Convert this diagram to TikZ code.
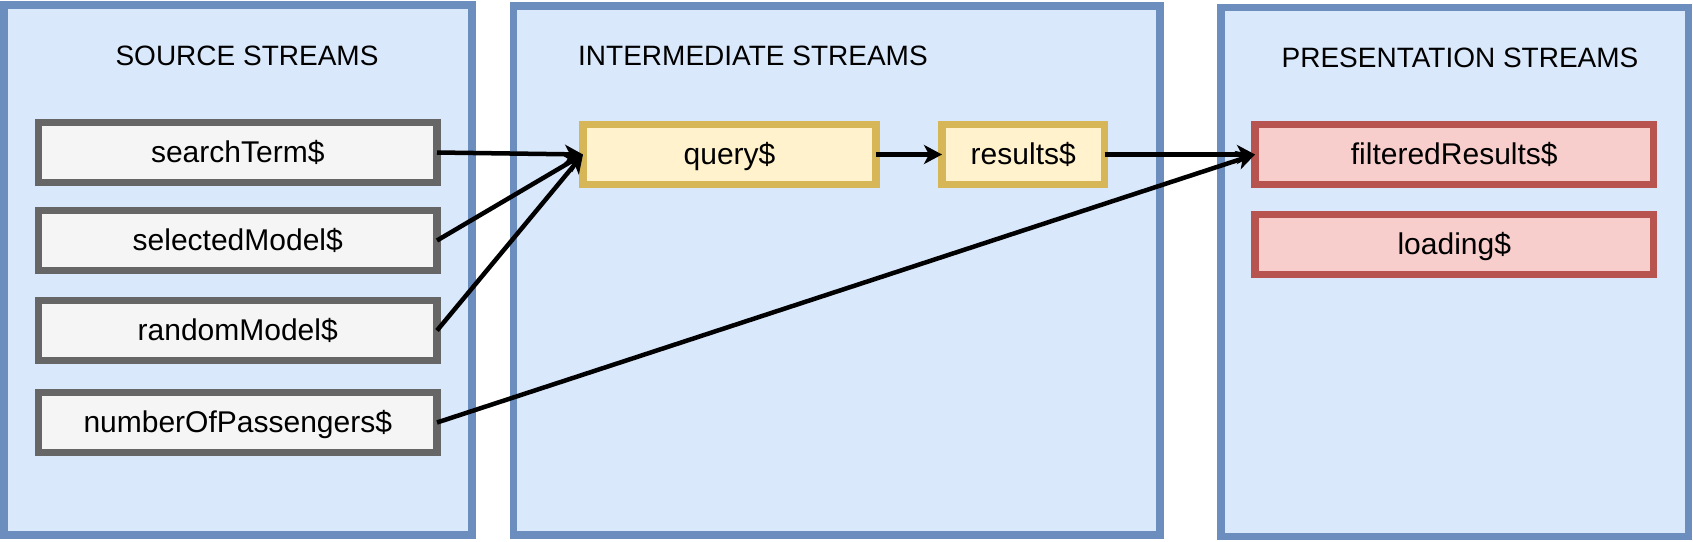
\documentclass[tikz,border=0pt]{standalone}
\usepackage{fontspec}
\setmainfont{Liberation Sans}
\usepackage{tikz}
\usetikzlibrary{arrows.meta}
\definecolor{groupfill}{HTML}{DAE8FC}
\definecolor{groupline}{HTML}{6C8EBF}
\definecolor{srcfill}{HTML}{F5F5F5}
\definecolor{srcline}{HTML}{666666}
\definecolor{midfill}{HTML}{FFF2CC}
\definecolor{midline}{HTML}{D6B656}
\definecolor{presfill}{HTML}{F8CECC}
\definecolor{presline}{HTML}{B85450}
\tikzstyle{group}=[rectangle, draw=groupline, fill=groupfill, line width=7.5pt, inner sep=0pt, outer sep=0pt]
\tikzstyle{title}=[anchor=base, inner sep=0pt, font=\fontsize{28}{34}\selectfont]
\tikzstyle{stream}=[rectangle, line width=7.5pt, inner sep=0pt, outer sep=0pt, minimum height=60pt, text height=22pt, text depth=3pt, font=\fontsize{30}{36}\selectfont]
\tikzstyle{sourcebox}=[stream, draw=srcline, fill=srcfill, minimum width=398.5pt]
\tikzstyle{interbox}=[stream, draw=midline, fill=midfill]
\tikzstyle{presbox}=[stream, draw=presline, fill=presfill, minimum width=398.5pt]
\tikzstyle{arrow}=[draw=black, line width=4.5pt, >={Stealth[length=18pt, width=19pt, inset=5pt]}]
\begin{document}
\begin{tikzpicture}[x=1pt, y=-1pt]
		   \useasboundingbox (0, 0) rectangle (1693, 541);
		   \begin{scope}
			   \node (source) at (238, 270)[group, minimum width=468pt, minimum height=530pt] {};
			   \node (inter) at (836.75, 270.5)[group, minimum width=646.5pt, minimum height=529pt] {};
			   \node (present) at (1454.75, 272)[group, minimum width=467.5pt, minimum height=529pt] {};
			   \node (t1) at (247, 65)[title] {SOURCE STREAMS};
			   \node (t2) at (578, 65)[title, anchor=base west] {INTERMEDIATE STREAMS};
			   \node (t3) at (1460, 67)[title] {PRESENTATION STREAMS};
		   \end{scope}
		   \begin{scope}
			   \node (st) at (237.75, 152.5)[sourcebox] {searchTerm\$};
			   \node (sm) at (237.75, 240.5)[sourcebox] {selectedModel\$};
			   \node (rm) at (237.75, 330.5)[sourcebox] {randomModel\$};
			   \node (np) at (237.75, 422.5)[sourcebox] {numberOfPassengers\$};
			   \node (q) at (729.5, 154.5)[interbox, minimum width=293pt] {query\$};
			   \node (r) at (1023.25, 154.5)[interbox, minimum width=162.5pt] {results\$};
			   \node (fr) at (1454.25, 154.5)[presbox] {filteredResults\$};
			   \node (ld) at (1454.25, 244.5)[presbox] {loading\$};
		   \end{scope}
		   \begin{scope}
			   \path (st.east) edge [arrow, ->] (q.west);
			   \path (sm.east) edge [arrow, ->] (q.west);
			   \path (rm.east) edge [arrow, ->] (q.west);
			   \path (np.east) edge [arrow, ->] (fr.west);
			   \path (q.east) edge [arrow, ->] (r.west);
			   \path (r.east) edge [arrow, ->] (fr.west);
		   \end{scope}
	   \end{tikzpicture}
\end{document}
